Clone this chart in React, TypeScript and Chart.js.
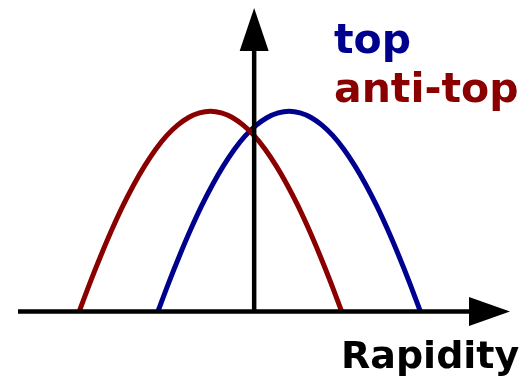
import React, { useEffect, useRef } from "react";
import { Chart, registerables } from "chart.js";

Chart.register(...registerables);

// Rapidity distributions (arbitrary units), sampled every 0.25 in rapidity
const antiTopRapidity = [
  -4, -3.75, -3.5, -3.25, -3, -2.75, -2.5, -2.25, -2, -1.75, -1.5, -1.25, -1,
  -0.75, -0.5, -0.25, 0, 0.25, 0.5, 0.75, 1, 1.25, 1.5, 1.75, 2,
];
const antiTopYield = [
  0, 0.144, 0.279, 0.406, 0.523, 0.628, 0.721, 0.802, 0.869, 0.921, 0.959, 0.982, 0.99,
  0.982, 0.959, 0.921, 0.869, 0.802, 0.721, 0.628, 0.523, 0.406, 0.279, 0.144, 0,
];

const topRapidity = [
  -2.2, -1.95, -1.7, -1.45, -1.2, -0.95, -0.7, -0.45, -0.2, 0.05, 0.3, 0.55, 0.8,
  1.05, 1.3, 1.55, 1.8, 2.05, 2.3, 2.55, 2.8, 3.05, 3.3, 3.55, 3.8,
];
const topYield = [
  0, 0.144, 0.279, 0.406, 0.523, 0.628, 0.721, 0.802, 0.869, 0.921, 0.959, 0.982, 0.99,
  0.982, 0.959, 0.921, 0.869, 0.802, 0.721, 0.628, 0.523, 0.406, 0.279, 0.144, 0,
];

const seriesLabels = ["top", "anti-top"];
const axisTitle = "Rapidity";

const TOP_COLOR = "#00008f";
const ANTI_TOP_COLOR = "#8a0000";
const FONT = "'DejaVu Sans', sans-serif";

const toPoints = (xs: number[], ys: number[]) => xs.map((x, i) => ({ x, y: ys[i] }));

// Draws both axes as arrows through the origin, plus the labels
const arrowAxes = {
  id: "arrowAxes",
  afterDatasetsDraw(chart: any) {
    const { ctx, chartArea, scales } = chart;
    const x0 = scales.x.getPixelForValue(0);
    const y0 = scales.y.getPixelForValue(0);
    const right = chartArea.right;
    const top = chartArea.top;
    const head = 41;
    const half = 14.5;

    ctx.save();
    ctx.strokeStyle = "#000";
    ctx.fillStyle = "#000";
    ctx.lineWidth = 4.5;
    ctx.lineCap = "butt";

    // horizontal axis
    ctx.beginPath();
    ctx.moveTo(chartArea.left, y0);
    ctx.lineTo(right - head + 2, y0);
    ctx.stroke();
    ctx.beginPath();
    ctx.moveTo(right, y0);
    ctx.lineTo(right - head, y0 - half);
    ctx.lineTo(right - head, y0 + half);
    ctx.closePath();
    ctx.fill();

    // vertical axis
    ctx.beginPath();
    ctx.moveTo(x0, y0);
    ctx.lineTo(x0, top + head + 1);
    ctx.stroke();
    ctx.beginPath();
    ctx.moveTo(x0, top);
    ctx.lineTo(x0 - half, top + head + 2);
    ctx.lineTo(x0 + half, top + head + 2);
    ctx.closePath();
    ctx.fill();

    // legend text
    ctx.textAlign = "left";
    ctx.textBaseline = "alphabetic";
    ctx.font = `bold 41px ${FONT}`;
    ctx.fillStyle = TOP_COLOR;
    ctx.fillText(seriesLabels[0], 334, 53);
    ctx.fillStyle = ANTI_TOP_COLOR;
    ctx.fillText(seriesLabels[1], 334, 102);

    // axis title
    ctx.font = `bold 38px ${FONT}`;
    ctx.fillStyle = "#000";
    ctx.fillText(axisTitle, 341, 368);
    ctx.restore();
  },
};

export default function App() {
  const canvasRef = useRef<HTMLCanvasElement | null>(null);

  useEffect(() => {
    document.body.style.margin = "0";
    const canvas = canvasRef.current;
    if (!canvas) return;
    const lineStyle = {
      borderWidth: 5,
      pointRadius: 0,
      cubicInterpolationMode: "monotone" as const,
      fill: false,
      clip: false as any,
    };
    const chart = new Chart(canvas, {
      type: "line",
      data: {
        datasets: [
          {
            label: seriesLabels[1],
            data: toPoints(antiTopRapidity, antiTopYield),
            borderColor: ANTI_TOP_COLOR,
            ...lineStyle,
          },
          {
            label: seriesLabels[0],
            data: toPoints(topRapidity, topYield),
            borderColor: TOP_COLOR,
            ...lineStyle,
          },
        ],
      },
      options: {
        responsive: false,
        animation: false,
        devicePixelRatio: 1,
        layout: { padding: { left: 18, right: 13, top: 8, bottom: 69.5 } },
        plugins: {
          legend: { display: false },
          tooltip: { enabled: false },
          title: { display: false },
        },
        scales: {
          x: { type: "linear", min: -5.4, max: 5.85, display: false },
          y: { type: "linear", min: 0, max: 1.5, display: false },
        },
      },
      plugins: [arrowAxes],
    });
    return () => chart.destroy();
  }, []);

  return (
    <div style={{ position: "absolute", left: 0, top: 0, width: 523, height: 381, background: "#fff" }}>
      <canvas ref={canvasRef} width={523} height={381} />
    </div>
  );
}
